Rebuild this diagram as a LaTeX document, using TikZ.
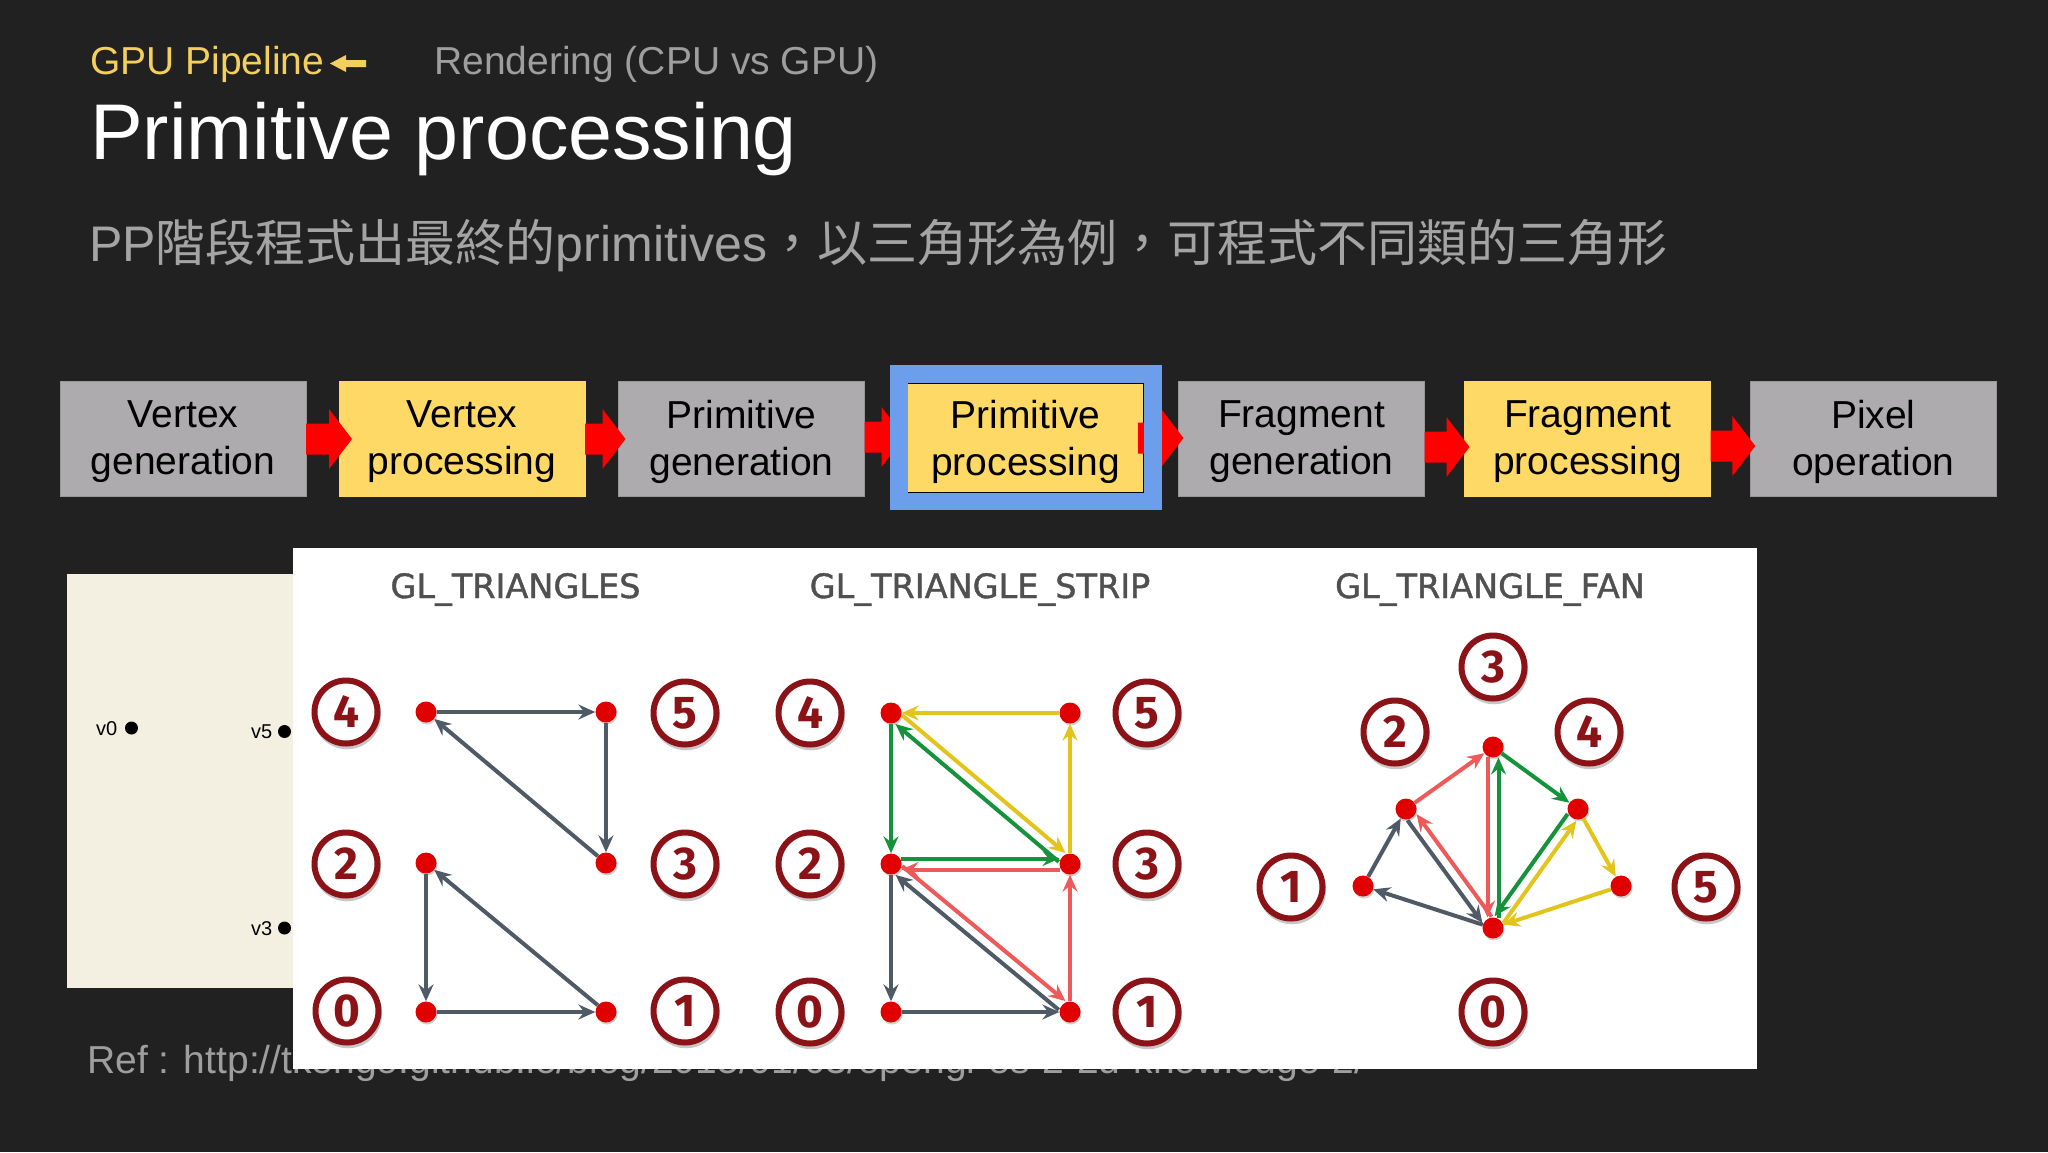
\documentclass[tikz,border=0pt]{standalone}
\usepackage{fontspec}
\setmainfont{Liberation Sans}
\newfontfamily\cjk{Noto Sans CJK TC}
\newfontfamily\firafont{Fira Sans}
\newfontfamily\ttlfont[FakeBold=1.2]{DejaVu Sans}
\usetikzlibrary{calc,arrows.meta,shadows}
\definecolor{bg}{HTML}{212121}
\definecolor{hdryellow}{HTML}{F4CF5C}
\definecolor{hdrgray}{HTML}{9E9E9E}
\definecolor{subgray}{HTML}{A4A4A4}
\definecolor{boxgray}{HTML}{ADABAD}
\definecolor{boxgrayline}{HTML}{999799}
\definecolor{boxyellow}{HTML}{FFD966}
\definecolor{frameblue}{HTML}{6D9EEB}
\definecolor{pipered}{HTML}{FF0000}
\definecolor{cream}{HTML}{F3F0E1}
\definecolor{numred}{HTML}{8B1318}
\definecolor{dotred}{HTML}{E00000}
\definecolor{egray}{HTML}{4E5A65}
\definecolor{ered}{HTML}{EE5A5A}
\definecolor{egreen}{HTML}{17923C}
\definecolor{eyellow}{HTML}{E3C41A}
\definecolor{ttlgray}{HTML}{505050}
\newcommand\blockarrow[2]{%
  \fill[pipered] let \p1=#1, \p2=#2 in
   (\x1,\y1+15.5pt) -- (\x2-23pt,\y1+15.5pt) -- (\x2-23pt,\y1+30pt) -- (\x2,\y1)
   -- (\x2-23pt,\y1-30pt) -- (\x2-23pt,\y1-15.5pt) -- (\x1,\y1-15.5pt) -- cycle;}
\newcommand\pedge[5]{%
  \draw[#1, shorten <=10pt, shorten >=10.5pt]
   ($(#2.center)!5.5pt!#4:(#3.center)$) -- ($(#3.center)!5.5pt!#5:(#2.center)$);}
\begin{document}
\begin{tikzpicture}[x=1pt,y=-1pt,
  gbox/.style={rectangle, fill=boxgray, draw=boxgrayline, line width=1pt,
    minimum width=246pt, minimum height=115pt, inner sep=0pt, outer sep=0pt},
  ybox/.style={gbox, fill=boxyellow, draw=boxyellow},
  btxt/.style={font=\fontsize{39}{47}\selectfont, align=center, text=black, inner sep=0pt},
  cnum/.style={circle, draw=numred, line width=6pt, fill=white, minimum size=63pt,
    inner sep=0pt, text=numred, font=\firafont\bfseries\fontsize{46}{46}\selectfont,
    drop shadow={shadow xshift=1pt, shadow yshift=-3pt, shadow scale=1.08, opacity=0.22, fill=black}},
  vdot/.style={circle, fill=dotred, minimum size=21pt, inner sep=0pt,
    drop shadow={shadow xshift=1pt, shadow yshift=-2pt, opacity=0.18, fill=black}},
  ed/.style={line width=4pt, -{Stealth[length=17pt,width=15pt,inset=6pt]}},
  eg/.style={ed, draw=egray},
  er/.style={ed, draw=ered},
  egr/.style={ed, draw=egreen},
  ey/.style={ed, draw=eyellow},
  ptitle/.style={anchor=base, text=ttlgray, font=\ttlfont\fontsize{33.5}{33.5}\selectfont, inner sep=0pt},
  vlab/.style={anchor=base west, text=black, font=\fontsize{20}{20}\selectfont, inner sep=0pt},
  sdot/.style={circle, fill=black, minimum size=13pt, inner sep=0pt}
]
% background
\fill[bg] (0,0) rectangle (2048,1152);
\useasboundingbox (0,0) rectangle (2048,1152);

% header
\node[anchor=base west, inner sep=0pt, text=hdryellow, font=\fontsize{39}{47}\selectfont] (hdr1) at (90,74) {GPU Pipeline};
\fill[hdryellow] (366,60) -- (346,60) -- (346,55) -- (330,63.5) -- (346,72) -- (346,67) -- (366,67) -- cycle;
\node[anchor=base west, inner sep=0pt, text=hdrgray, font=\fontsize{39}{47}\selectfont] (hdr2) at (434,74) {Rendering (CPU vs GPU)};
\node[anchor=base west, inner sep=0pt, text=white, font=\fontsize{79}{90}\selectfont] (title) at (90,159) {Primitive processing};
\node[anchor=base west, inner sep=0pt, text=subgray, font=\fontsize{50}{60}\selectfont] (sub) at (89,261)
  {PP{\cjk 階段程式出最終的}primitives{\cjk ，以三角形為例，可程式不同類的三角形}};

% pipeline boxes
\node[gbox] (b1) at (183,438.5) {};
\node[ybox] (b2) at (462,438.5) {};
\node[gbox] (b3) at (741.5,438.5) {};
\node[ybox, draw=black, line width=2pt, minimum width=237pt, minimum height=110pt] (b4) at (1025.5,438) {};
\node[gbox] (b5) at (1301.5,438.5) {};
\node[ybox] (b6) at (1587.5,438.5) {};
\node[gbox] (b7) at (1873.3,438.5) {};

% red arrows
\blockarrow{($(b1.east)+(0,0.5)$)}{($(b2.west)+(13,0.5)$)}
\blockarrow{($(b2.east)+(0,0.5)$)}{($(b3.west)+(7,0.5)$)}
\blockarrow{($(b3.east)+(0,-1.5)$)}{($(b3.east)+(40,-1.5)$)}
\blockarrow{($(b4.east)+(-6,0)$)}{($(b5.west)+(5,0)$)}
\blockarrow{($(b5.east)+(0,8.5)$)}{($(b6.west)+(5,8.5)$)}
\blockarrow{($(b6.east)+(0,7.5)$)}{($(b7.west)+(5,7.5)$)}

% highlight frame
\node[rectangle, draw=frameblue, line width=17.5pt, minimum width=254pt, minimum height=127.5pt, inner sep=0pt, outer sep=0pt] (b4f) at (1025.8,437.7) {};

% box texts
\node[btxt] at ($(b1.center)+(0,3)$) {Vertex\\generation};
\node[btxt] at ($(b2.center)+(0,3)$) {Vertex\\processing};
\node[btxt] at ($(b3.center)+(0,3)$) {Primitive\\generation};
\node[btxt] at ($(b4.center)+(0,3.5)$) {Primitive\\processing};
\node[btxt] at ($(b5.center)+(0,3)$) {Fragment\\generation};
\node[btxt] at ($(b6.center)+(0,3)$) {Fragment\\processing};
\node[btxt] at ($(b7.center)+(0,3)$) {Pixel\\operation};

% cream panel
\fill[cream] (67,574) rectangle (293,988);
\node[vlab] (v0l) at (96,735) {v0};
\node[sdot] (v0) at (131.5,728) {};
\node[vlab] (v5l) at (251,738.5) {v5};
\node[sdot] (v5) at (284.5,731.5) {};
\node[vlab] (v3l) at (251,935) {v3};
\node[sdot] (v3) at (284.5,928) {};

% reference text (mostly hidden under the picture)
\node[anchor=base west, inner sep=0pt, text=hdrgray, font=\fontsize{39}{47}\selectfont] (ref) at (87,1073)
  {Ref : http://tkengo.github.io/blog/2015/01/03/opengl-es-2-2d-knowledge-2/};

% white panel
\fill[white] (293,548) rectangle (1757,1069);

% panel titles
\node[ptitle] (tt1) at (515.5,598) {GL\_TRIANGLES};
\node[ptitle] (tt2) at (980,598) {GL\_TRIANGLE\_STRIP};
\node[ptitle] (tt3) at (1490,598) {GL\_TRIANGLE\_FAN};

% ---- GL_TRIANGLES ----
\node[cnum] (t4c) at (346,712) {4};
\node[cnum] (t5c) at (685,713) {5};
\node[cnum] (t2c) at (346,864) {2};
\node[cnum] (t3c) at (685,864) {3};
\node[cnum] (t0c) at (347,1011) {0};
\node[cnum] (t1c) at (685,1011) {1};
\node[vdot] (t4) at (426,712) {};
\node[vdot] (t5) at (606,712) {};
\node[vdot] (t2) at (426,863) {};
\node[vdot] (t3) at (606,863) {};
\node[vdot] (t0) at (426,1012) {};
\node[vdot] (t1) at (606,1012) {};
\draw[eg] (t4) -- (t5);
\draw[eg] (t5) -- (t3);
\draw[eg] (t3) -- (t4);
\draw[eg] (t0) -- (t1);
\draw[eg] (t1) -- (t2);
\draw[eg] (t2) -- (t0);

% ---- GL_TRIANGLE_STRIP ----
\node[cnum] (s4c) at (810,713) {4};
\node[cnum] (s5c) at (1147,713) {5};
\node[cnum] (s2c) at (810,864) {2};
\node[cnum] (s3c) at (1147,864) {3};
\node[cnum] (s0c) at (810,1012) {0};
\node[cnum] (s1c) at (1147,1012) {1};
\node[vdot] (s4) at (891,713) {};
\node[vdot] (s5) at (1070,713) {};
\node[vdot] (s2) at (891,864) {};
\node[vdot] (s3) at (1070,864) {};
\node[vdot] (s0) at (891,1012) {};
\node[vdot] (s1) at (1070,1012) {};
% gray 0-1-2
\draw[eg] (s0) -- (s1);
\pedge{eg}{s1}{s2}{90}{-90}
\draw[eg] (s2) -- (s0);
% red 1-3-2
\draw[er] (s1) -- (s3);
\pedge{er}{s3}{s2}{90}{-90}
\pedge{er}{s2}{s1}{90}{-90}
% green 2-3-4
\pedge{egr}{s2}{s3}{90}{-90}
\pedge{egr}{s3}{s4}{90}{-90}
\draw[egr] (s4) -- (s2);
% yellow 3-5-4
\draw[ey] (s3) -- (s5);
\draw[ey] (s5) -- (s4);
\pedge{ey}{s4}{s3}{90}{-90}

% ---- GL_TRIANGLE_FAN ----
\node[cnum] (f3c) at (1493,667) {3};
\node[cnum] (f2c) at (1395,732) {2};
\node[cnum] (f4c) at (1589,732) {4};
\node[cnum] (f1c) at (1291,887) {1};
\node[cnum] (f5c) at (1706,887) {5};
\node[cnum] (f0c) at (1493,1012) {0};
\node[vdot] (f3) at (1493,747) {};
\node[vdot] (f2) at (1406,809) {};
\node[vdot] (f4) at (1578,809) {};
\node[vdot] (f1) at (1363,886) {};
\node[vdot] (f5) at (1621,886) {};
\node[vdot] (f0) at (1493,928) {};
% gray 0-1-2
\draw[eg] (f0) -- (f1);
\draw[eg] (f1) -- (f2);
\pedge{eg}{f2}{f0}{-90}{90}
% red 0-2-3
\pedge{er}{f0}{f2}{-90}{90}
\draw[er] (f2) -- (f3);
\pedge{er}{f3}{f0}{-90}{90}
% green 0-3-4
\pedge{egr}{f0}{f3}{-90}{90}
\draw[egr] (f3) -- (f4);
\pedge{egr}{f4}{f0}{-90}{90}
% yellow 0-4-5
\pedge{ey}{f0}{f4}{-90}{90}
\draw[ey] (f4) -- (f5);
\draw[ey] (f5) -- (f0);
\end{tikzpicture}
\end{document}
